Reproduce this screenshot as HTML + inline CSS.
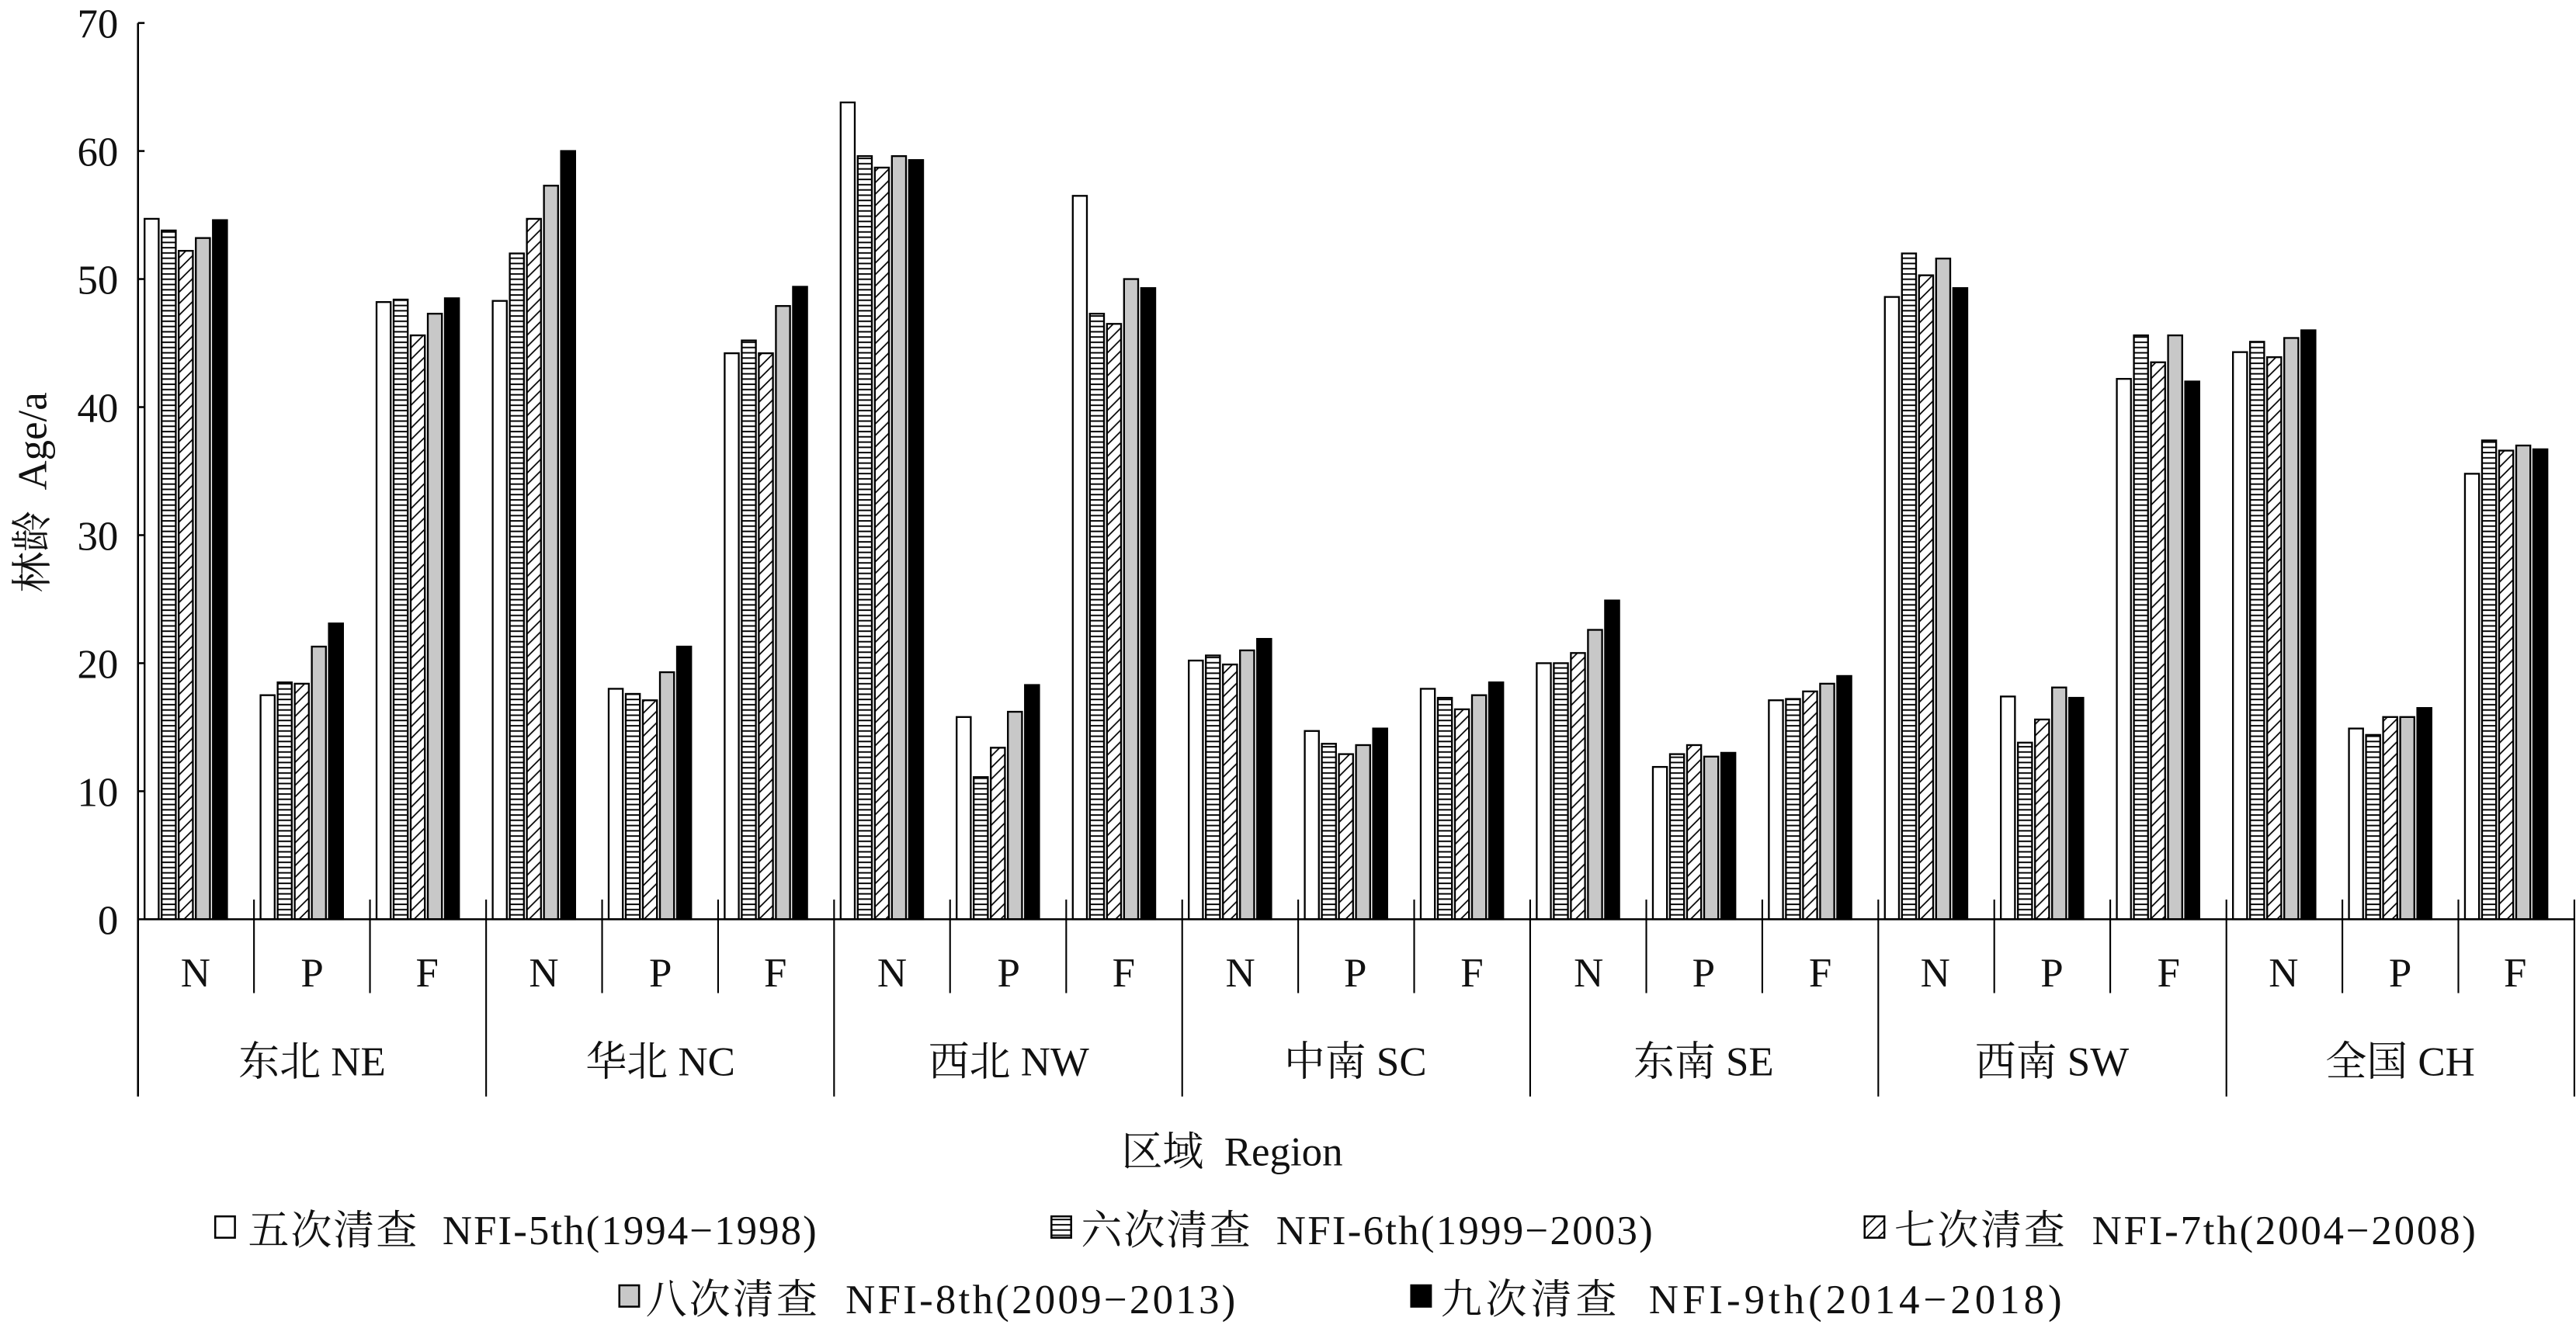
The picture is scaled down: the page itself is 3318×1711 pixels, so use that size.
<!DOCTYPE html>
<html><head><meta charset="utf-8">
<style>
html,body{margin:0;padding:0;background:#fff;}
svg{display:block;}
text{font-family:"Liberation Serif","Noto Serif CJK SC",serif;fill:#111;white-space:pre;}
</style></head>
<body>
<svg id="s" width="3318" height="1711" viewBox="0 0 1568 809" preserveAspectRatio="none" xmlns="http://www.w3.org/2000/svg" xml:space="preserve">
<defs>
<pattern id="hz" patternUnits="userSpaceOnUse" width="10" height="3.2"><rect width="10" height="3.2" fill="#fff"/><line x1="0" y1="0.5" x2="10" y2="0.5" stroke="#000" stroke-width="0.9"/></pattern>
<pattern id="dg" patternUnits="userSpaceOnUse" width="7" height="7"><rect width="7" height="7" fill="#fff"/><path d="M-1,8 L8,-1 M-1,1 L1,-1 M6,8 L8,6" stroke="#000" stroke-width="0.8"/></pattern>
</defs>
<g id="bars"></g>
<line x1="84" y1="14" x2="84" y2="668" stroke="#000" stroke-width="1.2"/>
<line x1="84" y1="560" x2="1567" y2="560" stroke="#000" stroke-width="1.2"/>
<g stroke="#000" stroke-width="1.2">
<line x1="84" y1="14" x2="88" y2="14"/><line x1="84" y1="92" x2="88" y2="92"/><line x1="84" y1="170" x2="88" y2="170"/><line x1="84" y1="248" x2="88" y2="248"/><line x1="84" y1="326" x2="88" y2="326"/><line x1="84" y1="404" x2="88" y2="404"/><line x1="84" y1="482" x2="88" y2="482"/>
</g>
<g id="seps" stroke="#000" stroke-width="1"></g>
<g font-size="25" text-anchor="end">
<text x="72" y="23">70</text><text x="72" y="101">60</text><text x="72" y="179">50</text><text x="72" y="257">40</text><text x="72" y="335">30</text><text x="72" y="413">20</text><text x="72" y="491">10</text><text x="72" y="569">0</text>
</g>
<g font-size="25" text-anchor="middle">
<text x="119" y="601">N</text><text x="190" y="601">P</text><text x="260" y="601">F</text>
<text x="331" y="601">N</text><text x="402" y="601">P</text><text x="472" y="601">F</text>
<text x="543" y="601">N</text><text x="614" y="601">P</text><text x="684" y="601">F</text>
<text x="755" y="601">N</text><text x="825" y="601">P</text><text x="896" y="601">F</text>
<text x="967" y="601">N</text><text x="1037" y="601">P</text><text x="1108" y="601">F</text>
<text x="1178" y="601">N</text><text x="1249" y="601">P</text><text x="1320" y="601">F</text>
<text x="1390" y="601">N</text><text x="1461" y="601">P</text><text x="1531" y="601">F</text>
<text x="190" y="655">东北 NE</text><text x="402" y="655">华北 NC</text><text x="614" y="655">西北 NW</text><text x="825" y="655">中南 SC</text><text x="1037" y="655">东南 SE</text><text x="1249" y="655">西南 SW</text><text x="1461" y="655">全国 CH</text>
<text x="750" y="710">区域  Region</text>
<text transform="translate(28,300) rotate(-90)">林龄  Age/a</text>
</g>
<g font-size="25">
<rect x="131" y="741" width="12" height="13" fill="#fff" stroke="#000" stroke-width="1.2"/>
<text x="151" y="758" textLength="346" lengthAdjust="spacing">五次清查  NFI-5th(1994−1998)</text>
<rect x="640" y="741" width="12" height="13" fill="url(#hz)" stroke="#000" stroke-width="1.2"/>
<text x="658" y="758" textLength="348" lengthAdjust="spacing">六次清查  NFI-6th(1999−2003)</text>
<rect x="1135" y="741" width="12" height="13" fill="url(#dg)" stroke="#000" stroke-width="1.2"/>
<text x="1153" y="758" textLength="354" lengthAdjust="spacing">七次清查  NFI-7th(2004−2008)</text>
<rect x="377" y="783" width="12" height="13" fill="#c8c8c8" stroke="#000" stroke-width="1.2"/>
<text x="393" y="800" textLength="359" lengthAdjust="spacing">八次清查  NFI-8th(2009−2013)</text>
<rect x="859" y="783" width="12" height="13" fill="#000" stroke="#000" stroke-width="1.2"/>
<text x="877" y="800" textLength="378" lengthAdjust="spacing">九次清查  NFI-9th(2014−2018)</text>
</g>
</svg>
<script>
var d=[[54.7,53.8,52.2,53.2,54.6],[17.5,18.5,18.4,21.3,23.1],[48.2,48.4,45.6,47.3,48.5],
[48.3,52.0,54.7,57.3,60.0],[18.0,17.6,17.1,19.3,21.3],[44.2,45.2,44.2,47.9,49.4],
[63.8,59.6,58.7,59.6,59.3],[15.8,11.1,13.4,16.2,18.3],[56.5,47.3,46.5,50.0,49.3],
[20.2,20.6,19.9,21.0,21.9],[14.7,13.7,12.9,13.6,14.9],[18.0,17.3,16.4,17.5,18.5],
[20.0,20.0,20.8,22.6,24.9],[11.9,12.9,13.6,12.7,13.0],[17.1,17.2,17.8,18.4,19.0],
[48.6,52.0,50.3,51.6,49.3],[17.4,13.8,15.6,18.1,17.3],[42.2,45.6,43.5,45.6,42.0],
[44.3,45.1,43.9,45.4,46.0],[14.9,14.4,15.8,15.8,16.5],[34.8,37.4,36.6,37.0,36.7]];
var fills=["#fff","url(#hz)","url(#dg)","#c8c8c8","#000"];
var h="",sw=70.62;
for(var i=0;i<21;i++){var sx=84+i*sw;
 for(var j=0;j<5;j++){var v=d[i][j],y=560-v*7.8;
  h+='<rect x="'+(sx+4+j*10.4).toFixed(1)+'" y="'+y.toFixed(1)+'" width="8.6" height="'+(v*7.8).toFixed(1)+'" fill="'+fills[j]+'" stroke="#000" stroke-width="1.1"/>';}}
document.getElementById("bars").innerHTML=h;
var s="";
for(var i=1;i<=21;i++){var x=(84+i*sw).toFixed(1);
 if(i%3==0) s+='<line x1="'+x+'" y1="548" x2="'+x+'" y2="668"/>';
 else s+='<line x1="'+x+'" y1="548" x2="'+x+'" y2="605"/>';}
document.getElementById("seps").innerHTML=s;
</script>
</body></html>
